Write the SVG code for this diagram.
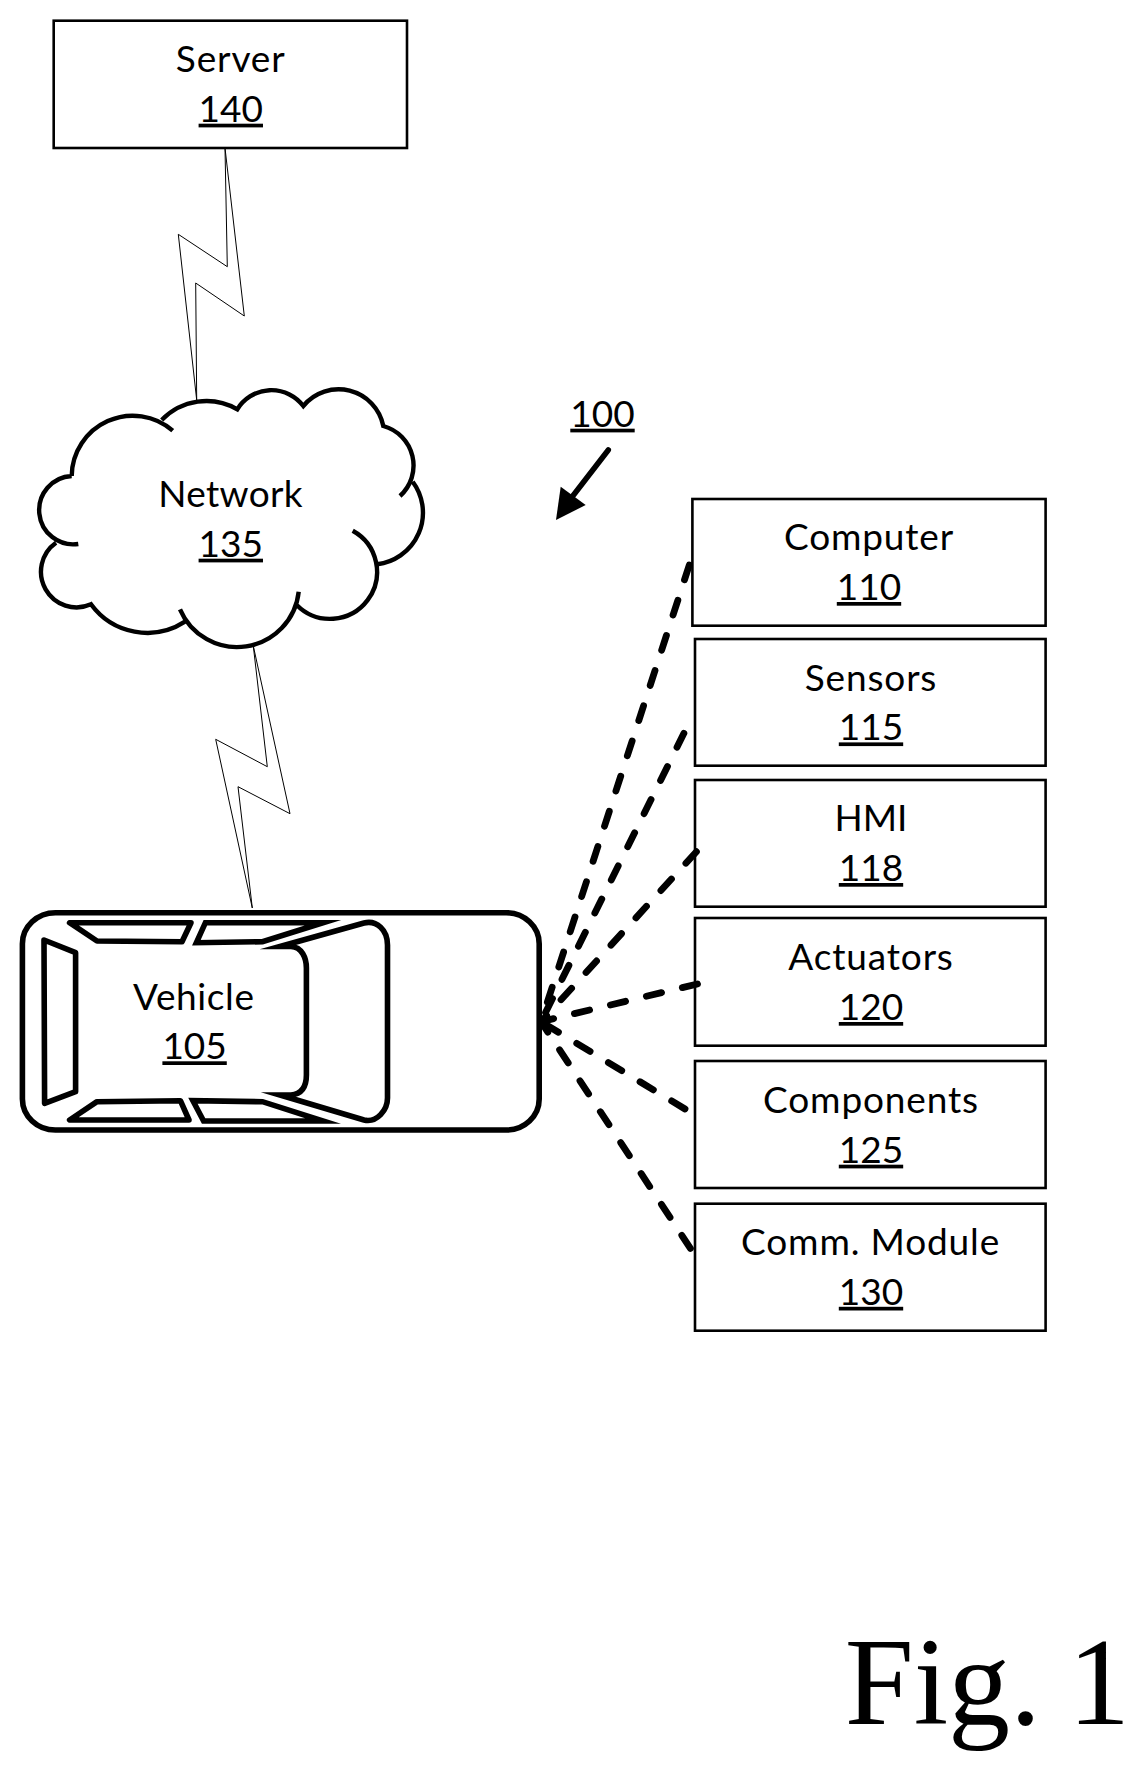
<svg xmlns="http://www.w3.org/2000/svg" width="1141" height="1772" viewBox="0 0 1141 1772">
<style>
text{font-family:"Lato","Liberation Sans",sans-serif;font-size:37px;fill:#000;text-anchor:middle}
.lab{letter-spacing:.85px}
.ref{text-decoration:underline;text-decoration-thickness:3.5px;text-underline-offset:3px;text-decoration-skip-ink:none}
.box{fill:#fff;stroke:#000;stroke-width:2.6}
.bolt{fill:#fff;stroke:#000;stroke-width:1}
.thick{fill:none;stroke:#000;stroke-width:4.4;stroke-linecap:butt}
.car{fill:none;stroke:#000;stroke-width:5.6;stroke-linejoin:miter;stroke-miterlimit:12}
.rnd{stroke-linejoin:round}
.dash{fill:none;stroke:#000;stroke-width:6.8;stroke-linecap:round;stroke-dasharray:15.6 21.4}
.fig{font-family:"Liberation Serif","Times New Roman",serif;font-size:124px;text-anchor:start;word-spacing:-4px}
</style>
<rect width="1141" height="1772" fill="#fff"/>
<g id="server-140">
<rect class="box" x="53.7" y="20.7" width="353.3" height="127.3"/>
<text class="lab" x="230.7" y="71.7">Server</text>
<text class="ref" x="230.8" y="121.7">140</text>
</g>
<g id="network-135">
<path class="thick" d="M71.7,476 A61,61 0 0 1 172.7,430.7 M161.7,420 A62,62 0 0 1 237.3,409.3 A40,40 0 0 1 303.3,406 A45.6,45.6 0 0 1 383.3,426 A41,41 0 0 1 400,496 M412.7,481.7 A52,52 0 0 1 377.3,564.3 M352.7,530.7 A47,47 0 1 1 296.7,605 M298.7,591.7 A62,62 0 0 1 180,609.3 M185,621.7 A69.6,69.6 0 0 1 91,604.3 A35.6,35.6 0 0 1 56,542.7 M78.3,544 A34.2,34.2 0 1 1 71.7,476"/>
<text style="letter-spacing:.3px" x="230.6" y="507">Network</text>
<text class="ref" x="230.8" y="556.7">135</text>
</g>
<g id="vehicle-105">
<rect class="car" x="22.4" y="912.7" width="516.8" height="217.3" rx="33" ry="31"/>
<path class="car rnd" d="M44,940 L75.6,952.7 V1091.7 L44.6,1103.3 Z"/>
<path class="car rnd" d="M69.6,922.7 H191 L182,941.7 L97,941 Z"/>
<path class="car" d="M205.4,922.7 H323 L262.5,941.7 L196.4,942.7 Z"/>
<path class="car rnd" d="M69.6,1120 H189 L180.4,1100.7 L97,1101.7 Z"/>
<path class="car" d="M203.6,1121 H323 L262.5,1101.7 L192.9,1100.7 Z"/>
<path class="car" d="M280,946.5 H291 C302,947 306.4,958 306.4,968 V1075 C306.4,1086 302,1094 291,1095 H280 L364,1120 C377,1123 387.5,1110 387.5,1098 V945 C387.5,930 377,920 364,923 Z"/>
<text class="lab" style="letter-spacing:.6px" x="193.8" y="1010">Vehicle</text>
<text class="ref" x="194.6" y="1059.3">105</text>
</g>
<g id="computer-110">
<rect class="box" x="692.4" y="499" width="353.2" height="126.7"/>
<text class="lab" x="869" y="550">Computer</text>
<text class="ref" x="869" y="600">110</text>
</g>
<g id="sensors-115">
<rect class="box" x="695" y="639" width="350.6" height="126.7"/>
<text class="lab" x="871" y="690.8">Sensors</text>
<text class="ref" x="871" y="740.4">115</text>
</g>
<g id="hmi-118">
<rect class="box" x="695" y="780" width="350.6" height="126.7"/>
<text x="871" y="831.4">HMI</text>
<text class="ref" x="871" y="881">118</text>
</g>
<g id="actuators-120">
<rect class="box" x="695" y="918" width="350.6" height="127.7"/>
<text class="lab" x="871" y="970">Actuators</text>
<text class="ref" x="871" y="1020">120</text>
</g>
<g id="components-125">
<rect class="box" x="695" y="1061" width="350.6" height="127"/>
<text class="lab" x="871" y="1112.8">Components</text>
<text class="ref" x="871" y="1162.7">125</text>
</g>
<g id="comm-module-130">
<rect class="box" x="695" y="1203.7" width="350.6" height="127"/>
<text class="lab" x="870.6" y="1255">Comm. Module</text>
<text class="ref" x="871" y="1304.8">130</text>
</g>
<g id="connectors">
<path class="bolt" d="M225,148 L227.3,266.7 L178.3,234.3 L196.7,400 L195.7,283 L244.3,316 Z"/>
<path class="bolt" d="M253.3,646 L267.3,766.7 L215.7,739.3 L252.3,908 L238,786.7 L290,813.7 Z"/>
<path class="dash" d="M689.3,565 L541,1021.7"/>
<path class="dash" d="M683.9,733.3 L541,1021.7"/>
<path class="dash" d="M696.4,851.7 L541,1021.7"/>
<path class="dash" d="M697.5,984 L541,1021.7"/>
<path class="dash" d="M685,1109 L541,1021.7"/>
<path class="dash" d="M690.4,1248.3 L541,1021.7"/>
<path d="M608.3,450 L572,497" stroke="#000" stroke-width="5.5" stroke-linecap="round" fill="none"/>
<polygon points="556,520 560.7,486.7 585.7,505" fill="#000"/>
</g>
<text id="label-100" class="ref" x="602.5" y="426.7">100</text>
<text id="fig-label" class="fig" x="844.7" y="1724">Fig. 1</text>
</svg>
